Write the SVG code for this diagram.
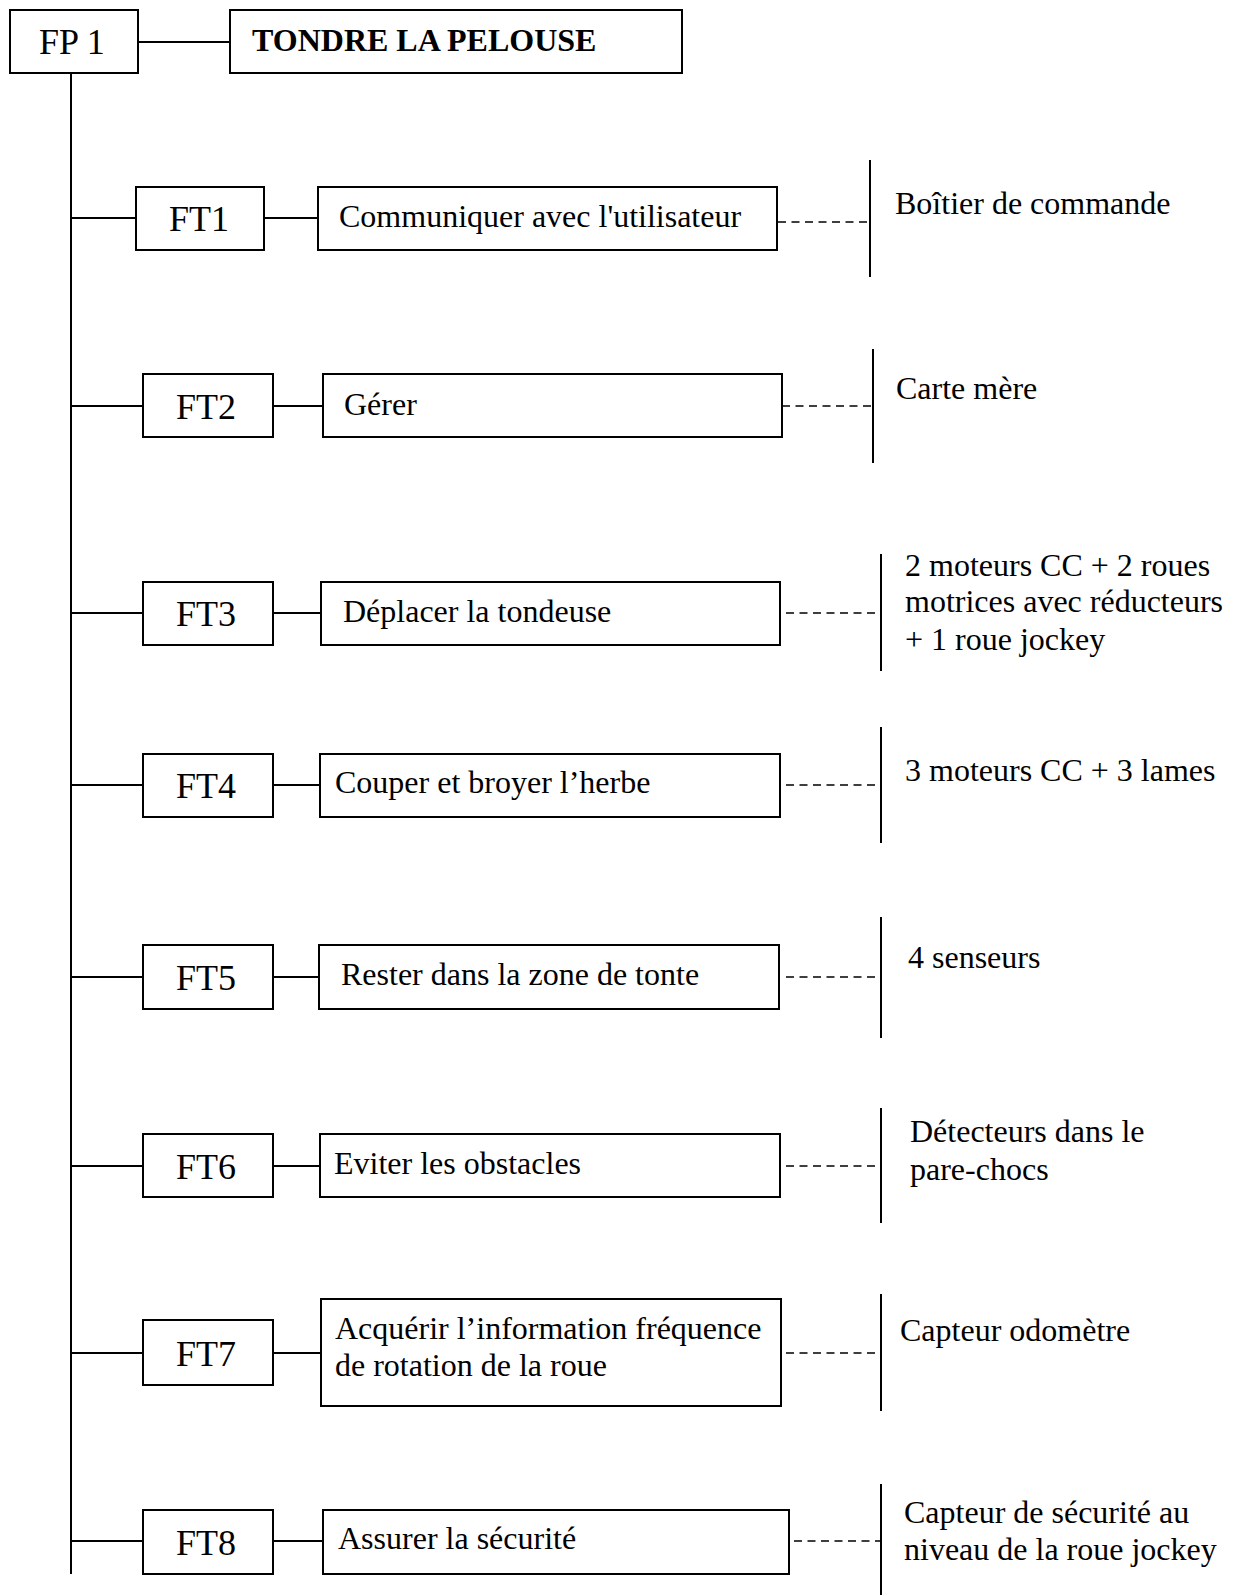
<svg xmlns="http://www.w3.org/2000/svg" width="1234" height="1595" viewBox="0 0 1234 1595">
<style>
.box{fill:#fff;stroke:#000;stroke-width:2}
.ln{stroke:#000;stroke-width:2;fill:none}
.dash{stroke:#000;stroke-width:1.6;stroke-dasharray:8 5.5;fill:none}
.lbl{font-family:"Liberation Serif","Times New Roman",serif;font-size:36px;fill:#000}
.t{font-family:"Liberation Serif","Times New Roman",serif;font-size:32px;fill:#000}
.b{font-weight:bold}
</style>
<rect width="1234" height="1595" fill="#fff"/>
<g id="connectors">
<line class="ln" x1="71" y1="73" x2="71" y2="1574"/>
<line class="ln" x1="138" y1="42" x2="230" y2="42"/>
<line class="ln" x1="71" y1="218" x2="136" y2="218"/>
<line class="ln" x1="264" y1="218" x2="318" y2="218"/>
<line class="dash" x1="778" y1="222" x2="869" y2="222"/>
<line class="ln" x1="870" y1="160" x2="870" y2="277"/>
<line class="ln" x1="71" y1="406" x2="143" y2="406"/>
<line class="ln" x1="273" y1="406" x2="323" y2="406"/>
<line class="dash" x1="782" y1="406" x2="872" y2="406"/>
<line class="ln" x1="873" y1="349" x2="873" y2="463"/>
<line class="ln" x1="71" y1="613" x2="143" y2="613"/>
<line class="ln" x1="273" y1="613" x2="321" y2="613"/>
<line class="dash" x1="786" y1="613" x2="880" y2="613"/>
<line class="ln" x1="881" y1="554" x2="881" y2="671"/>
<line class="ln" x1="71" y1="785" x2="143" y2="785"/>
<line class="ln" x1="273" y1="785" x2="320" y2="785"/>
<line class="dash" x1="786" y1="785" x2="880" y2="785"/>
<line class="ln" x1="881" y1="727" x2="881" y2="843"/>
<line class="ln" x1="71" y1="977" x2="143" y2="977"/>
<line class="ln" x1="273" y1="977" x2="319" y2="977"/>
<line class="dash" x1="786" y1="977" x2="880" y2="977"/>
<line class="ln" x1="881" y1="917" x2="881" y2="1038"/>
<line class="ln" x1="71" y1="1166" x2="143" y2="1166"/>
<line class="ln" x1="273" y1="1166" x2="320" y2="1166"/>
<line class="dash" x1="786" y1="1166" x2="880" y2="1166"/>
<line class="ln" x1="881" y1="1108" x2="881" y2="1223"/>
<line class="ln" x1="71" y1="1353" x2="143" y2="1353"/>
<line class="ln" x1="273" y1="1353" x2="321" y2="1353"/>
<line class="dash" x1="786" y1="1353" x2="880" y2="1353"/>
<line class="ln" x1="881" y1="1294" x2="881" y2="1411"/>
<line class="ln" x1="71" y1="1541" x2="143" y2="1541"/>
<line class="ln" x1="273" y1="1541" x2="323" y2="1541"/>
<line class="dash" x1="794" y1="1541" x2="880" y2="1541"/>
<line class="ln" x1="881" y1="1484" x2="881" y2="1595"/>
</g>
<g id="FP1"><rect class="box" x="10" y="10" width="128" height="63"/><text class="lbl" x="39" y="54">FP 1</text></g>
<g id="FP1-label"><rect class="box" x="230" y="10" width="452" height="63"/><text class="t b" x="252" y="51">TONDRE LA PELOUSE</text></g>
<g id="FT1"><rect class="box" x="136" y="187" width="128" height="63"/><text class="lbl" x="169" y="231">FT1</text></g>
<g id="FT1-func"><rect class="box" x="318" y="187" width="459" height="63"/><text class="t" x="339" y="227">Communiquer avec l'utilisateur</text></g>
<g id="FT1-sol"><text class="t" x="895" y="214">Boîtier de commande</text></g>
<g id="FT2"><rect class="box" x="143" y="374" width="130" height="63"/><text class="lbl" x="176" y="419">FT2</text></g>
<g id="FT2-func"><rect class="box" x="323" y="374" width="459" height="63"/><text class="t" x="344" y="415">Gérer</text></g>
<g id="FT2-sol"><text class="t" x="896" y="399">Carte mère</text></g>
<g id="FT3"><rect class="box" x="143" y="582" width="130" height="63"/><text class="lbl" x="176" y="626">FT3</text></g>
<g id="FT3-func"><rect class="box" x="321" y="582" width="459" height="63"/><text class="t" x="343" y="622">Déplacer la tondeuse</text></g>
<g id="FT3-sol"><text class="t" x="905" y="576">2 moteurs CC + 2 roues</text><text class="t" x="905" y="612">motrices avec réducteurs</text><text class="t" x="905" y="650">+ 1 roue jockey</text></g>
<g id="FT4"><rect class="box" x="143" y="754" width="130" height="63"/><text class="lbl" x="176" y="798">FT4</text></g>
<g id="FT4-func"><rect class="box" x="320" y="754" width="460" height="63"/><text class="t" x="335" y="793">Couper et broyer l’herbe</text></g>
<g id="FT4-sol"><text class="t" x="905" y="781">3 moteurs CC + 3 lames</text></g>
<g id="FT5"><rect class="box" x="143" y="945" width="130" height="64"/><text class="lbl" x="176" y="990">FT5</text></g>
<g id="FT5-func"><rect class="box" x="319" y="945" width="460" height="64"/><text class="t" x="341" y="985">Rester dans la zone de tonte</text></g>
<g id="FT5-sol"><text class="t" x="908" y="968">4 senseurs</text></g>
<g id="FT6"><rect class="box" x="143" y="1134" width="130" height="63"/><text class="lbl" x="176" y="1179">FT6</text></g>
<g id="FT6-func"><rect class="box" x="320" y="1134" width="460" height="63"/><text class="t" x="334" y="1174">Eviter les obstacles</text></g>
<g id="FT6-sol"><text class="t" x="910" y="1142">Détecteurs dans le</text><text class="t" x="910" y="1180">pare-chocs</text></g>
<g id="FT7"><rect class="box" x="143" y="1320" width="130" height="65"/><text class="lbl" x="176" y="1366">FT7</text></g>
<g id="FT7-func"><rect class="box" x="321" y="1299" width="460" height="107"/><text class="t" x="335" y="1339">Acquérir l’information fréquence</text><text class="t" x="335" y="1376">de rotation de la roue</text></g>
<g id="FT7-sol"><text class="t" x="900" y="1341">Capteur odomètre</text></g>
<g id="FT8"><rect class="box" x="143" y="1510" width="130" height="64"/><text class="lbl" x="176" y="1555">FT8</text></g>
<g id="FT8-func"><rect class="box" x="323" y="1510" width="466" height="64"/><text class="t" x="338" y="1549">Assurer la sécurité</text></g>
<g id="FT8-sol"><text class="t" x="904" y="1523">Capteur de sécurité au</text><text class="t" x="904" y="1560">niveau de la roue jockey</text></g>
</svg>
